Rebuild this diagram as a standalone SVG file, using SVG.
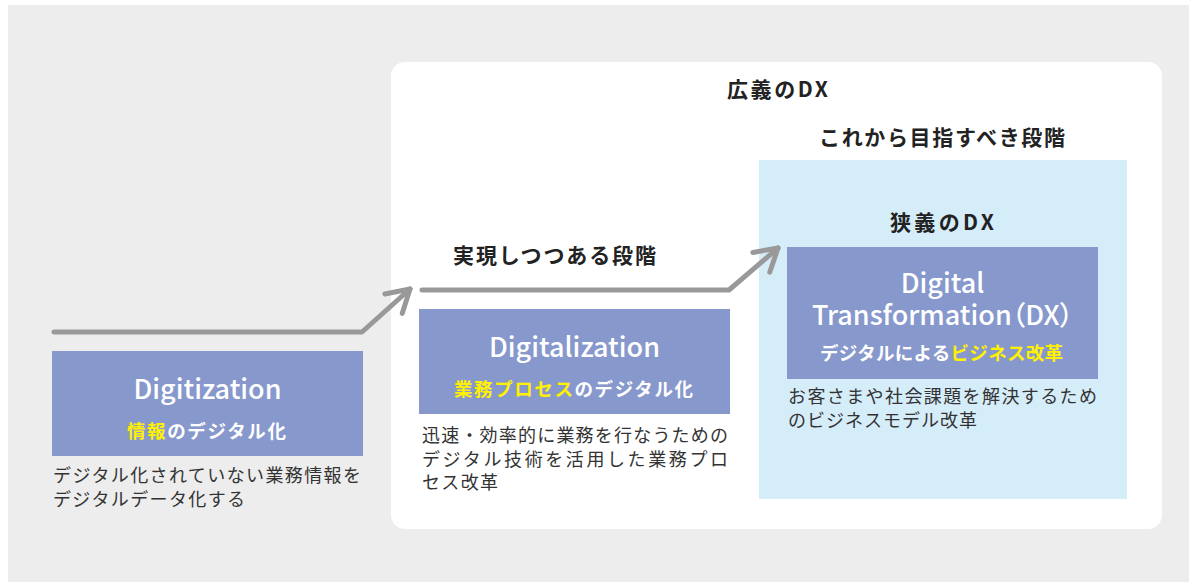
<svg xmlns="http://www.w3.org/2000/svg" width="1189" height="582" viewBox="0 0 1189 582">
  <style>
    .jp { font-family: "Noto Sans CJK JP", "Noto Sans", sans-serif; }
    .head { font-size: 21px; font-weight: 700; fill: #222222; }
    .title { font-size: 27px; font-weight: 500; fill: #ffffff; text-anchor: middle; }
    .sub { font-size: 18.5px; font-weight: 700; fill: #ffffff; }
    .hl { fill: #fff100; }
    .desc { font-size: 18px; font-weight: 400; fill: #333333; }
    .box { fill: #8798cc; }
    .conn { fill: none; stroke: #999999; stroke-width: 5; stroke-linecap: round; stroke-linejoin: round; }
    .palt { font-feature-settings: "palt" 1; }
  </style>
  <defs>
    <marker id="arr" markerUnits="userSpaceOnUse" orient="auto" markerWidth="40" markerHeight="40" refX="0" refY="0" viewBox="-30 -20 40 40" overflow="visible">
      <path d="M-22,-13 L0,0 L-22,13" fill="none" stroke="#999999" stroke-width="5" stroke-linecap="round" stroke-linejoin="round"/>
    </marker>
  </defs>

  <rect id="background" x="8" y="5" width="1181" height="577" fill="#ededed"/>

  <g id="broad-dx">
    <rect x="391" y="62" width="771" height="467" rx="14" ry="14" fill="#ffffff"/>
    <text class="jp head" x="727" y="97" textLength="101" lengthAdjust="spacing">広義のDX</text>
  </g>

  <g id="narrow-dx-area">
    <rect x="759" y="160" width="368" height="339" fill="#d5ecf9"/>
    <text class="jp head" x="819" y="145" textLength="246" lengthAdjust="spacing">これから目指すべき段階</text>
    <text class="jp head" x="890" y="230" textLength="104" lengthAdjust="spacing">狭義のDX</text>
  </g>

  <g id="connectors">
    <path class="conn" d="M54,332 H362 L410,289" marker-end="url(#arr)"/>
    <path class="conn" d="M422,290 H729 L778,248" marker-end="url(#arr)"/>
  </g>

  <g id="digitization">
    <rect class="box" x="52" y="351" width="311" height="105"/>
    <text class="jp title" x="207.5" y="399">Digitization</text>
    <text class="jp sub" x="127" y="438" textLength="159" lengthAdjust="spacing"><tspan class="hl">情報</tspan>のデジタル化</text>
    <text class="jp desc" x="53" y="482" textLength="308" lengthAdjust="spacing">デジタル化されていない業務情報を</text>
    <text class="jp desc" x="53" y="506" textLength="192" lengthAdjust="spacing">デジタルデータ化する</text>
  </g>

  <g id="digitalization">
    <text class="jp head" x="453" y="263" textLength="203" lengthAdjust="spacing">実現しつつある段階</text>
    <rect class="box" x="419" y="309" width="311" height="105"/>
    <text class="jp title" x="574.5" y="357">Digitalization</text>
    <text class="jp sub" x="454" y="396" textLength="239" lengthAdjust="spacing"><tspan class="hl">業務プロセス</tspan>のデジタル化</text>
    <text class="jp desc" x="422" y="442" textLength="306" lengthAdjust="spacing">迅速・効率的に業務を行なうための</text>
    <text class="jp desc" x="422" y="466" textLength="306" lengthAdjust="spacing">デジタル技術を活用した業務プロ</text>
    <text class="jp desc" x="422" y="489" textLength="76" lengthAdjust="spacing">セス改革</text>
  </g>

  <g id="digital-transformation">
    <rect class="box" x="787" y="247" width="311" height="132"/>
    <text class="jp title" x="942.5" y="293">Digital</text>
    <text class="jp title palt" x="942.5" y="325">Transformation（DX）</text>
    <text class="jp sub" x="820" y="360" textLength="243" lengthAdjust="spacing">デジタルによる<tspan class="hl">ビジネス改革</tspan></text>
    <text class="jp desc" x="788" y="403" textLength="309" lengthAdjust="spacing">お客さまや社会課題を解決するため</text>
    <text class="jp desc" x="788" y="427" textLength="189" lengthAdjust="spacing">のビジネスモデル改革</text>
  </g>
</svg>
